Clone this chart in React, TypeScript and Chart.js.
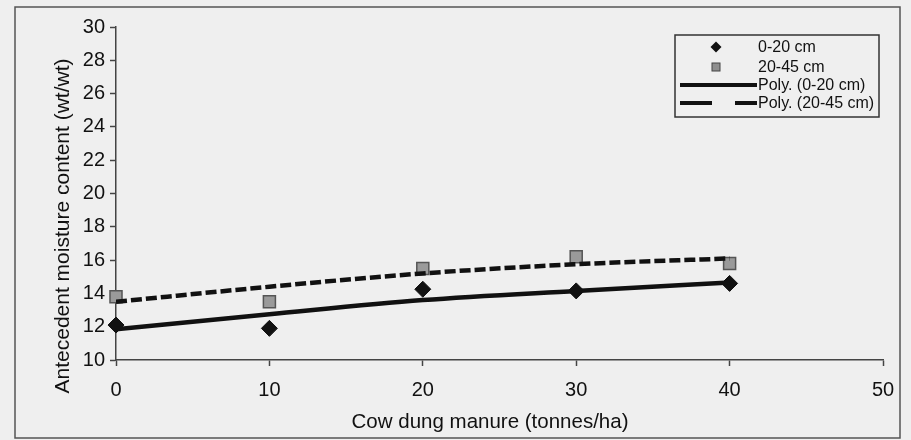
import React, { useEffect, useRef } from "react";
import { Chart, registerables } from "chart.js";

Chart.register(...registerables);

// ---- data ----
const manureRates = [0, 10, 20, 30, 40];
const moisture0to20 = [12.1, 11.9, 14.25, 14.15, 14.6];
const moisture20to45 = [13.8, 13.5, 15.5, 16.2, 15.8];
const poly0to20 = [11.85, 12.75, 13.6, 14.15, 14.65];
const poly20to45 = [13.5, 14.4, 15.2, 15.75, 16.1];
const seriesLabels = ["0-20 cm", "20-45 cm", "Poly. (0-20 cm)", "Poly. (20-45 cm)"];
const xTickValues = [0, 10, 20, 30, 40, 50];
const yTickValues = [10, 12, 14, 16, 18, 20, 22, 24, 26, 28, 30];
const xTitle = "Cow dung manure (tonnes/ha)";
const yTitle = "Antecedent moisture content (wt/wt)";

const FONT = '"Liberation Sans", Arial, sans-serif';
const INK = "#111";
const BG = "#efefef";

const toPoints = (xs: number[], ys: number[]) => xs.map((x, i) => ({ x, y: ys[i] }));

const decorations = {
  id: "decorations",
  beforeDraw(chart: any) {
    const ctx = chart.ctx;
    ctx.save();
    ctx.fillStyle = BG;
    ctx.fillRect(0, 0, chart.width, chart.height);
    ctx.strokeStyle = "#555";
    ctx.lineWidth = 1.5;
    ctx.strokeRect(15, 7, 885, 431);
    ctx.restore();
  },
  afterDraw(chart: any) {
    const ctx = chart.ctx;
    ctx.save();
    ctx.fillStyle = INK;
    // x title
    ctx.font = `20.5px ${FONT}`;
    ctx.textAlign = "center";
    ctx.textBaseline = "alphabetic";
    ctx.fillText(xTitle, 490, 428);
    // y title
    ctx.save();
    ctx.translate(69, 226);
    ctx.rotate(-Math.PI / 2);
    ctx.font = `21px ${FONT}`;
    ctx.fillText(yTitle, 0, 0);
    ctx.restore();

    // legend
    const bx = 675, by = 35, bw = 204, bh = 82;
    ctx.fillStyle = BG;
    ctx.fillRect(bx, by, bw, bh);
    ctx.strokeStyle = "#333";
    ctx.lineWidth = 1.5;
    ctx.strokeRect(bx, by, bw, bh);
    const rows = [47, 67, 85, 103];
    const symX = 716;
    // diamond
    ctx.fillStyle = "#111";
    ctx.beginPath();
    ctx.moveTo(symX - 5.5, rows[0]);
    ctx.lineTo(symX, rows[0] - 5.5);
    ctx.lineTo(symX + 5.5, rows[0]);
    ctx.lineTo(symX, rows[0] + 5.5);
    ctx.closePath();
    ctx.fill();
    // square
    ctx.fillStyle = "#8e8e8e";
    ctx.fillRect(symX - 4, rows[1] - 4, 8, 8);
    ctx.strokeStyle = "#444";
    ctx.lineWidth = 1;
    ctx.strokeRect(symX - 4, rows[1] - 4, 8, 8);
    // solid line
    ctx.strokeStyle = "#111";
    ctx.lineWidth = 4;
    ctx.beginPath();
    ctx.moveTo(680, rows[2]);
    ctx.lineTo(757, rows[2]);
    ctx.stroke();
    // dashed line
    ctx.beginPath();
    ctx.moveTo(680, rows[3]);
    ctx.lineTo(712, rows[3]);
    ctx.moveTo(735, rows[3]);
    ctx.lineTo(757, rows[3]);
    ctx.stroke();
    // texts
    ctx.fillStyle = INK;
    ctx.font = `16px ${FONT}`;
    ctx.textAlign = "left";
    ctx.textBaseline = "middle";
    seriesLabels.forEach((t, i) => ctx.fillText(t, 758, rows[i] + 1));
    ctx.restore();
  },
};

export default function App() {
  const ref = useRef<HTMLCanvasElement | null>(null);

  useEffect(() => {
    if (!ref.current) return;
    const chart = new Chart(ref.current, {
      type: "scatter",
      data: {
        datasets: [
          {
            label: seriesLabels[2],
            data: toPoints(manureRates, poly0to20),
            showLine: true,
            borderColor: "#111",
            borderWidth: 4.5,
            pointRadius: 0,
            cubicInterpolationMode: "monotone",
            order: 0,
          },
          {
            label: seriesLabels[3],
            data: toPoints(manureRates, poly20to45),
            showLine: true,
            borderColor: "#111",
            borderWidth: 4.5,
            borderDash: [11, 4],
            pointRadius: 0,
            cubicInterpolationMode: "monotone",
            order: 0,
          },
          {
            label: seriesLabels[0],
            data: toPoints(manureRates, moisture0to20),
            pointStyle: "rectRot",
            pointRadius: 8,
            backgroundColor: "#111",
            borderColor: "#111",
            borderWidth: 1,
            clip: false,
            order: 1,
          },
          {
            label: seriesLabels[1],
            data: toPoints(manureRates, moisture20to45),
            pointStyle: "rect",
            pointRadius: 8.5,
            backgroundColor: "#9a9a9a",
            borderColor: "#555",
            borderWidth: 1.5,
            clip: false,
            order: 2,
          },
        ] as any,
      },
      options: {
        responsive: false,
        animation: false,
        devicePixelRatio: 1,
        layout: { padding: { left: 0, right: 28, top: 27, bottom: 0 } },
        plugins: { legend: { display: false }, tooltip: { enabled: false } },
        scales: {
          x: {
            type: "linear",
            min: 0,
            max: 50,
            afterBuildTicks: (s: any) => {
              s.ticks = xTickValues.map((v) => ({ value: v }));
            },
            afterFit: (s: any) => {
              s.height = 80;
            },
            ticks: { color: INK, font: { family: FONT, size: 20 }, padding: 12 },
            grid: { drawOnChartArea: false, drawTicks: true, tickLength: 6, tickColor: "#444", tickWidth: 1.5 },
            border: { color: "#444", width: 1.5 },
          },
          y: {
            type: "linear",
            min: 10,
            max: 30,
            afterBuildTicks: (s: any) => {
              s.ticks = yTickValues.map((v) => ({ value: v }));
            },
            afterFit: (s: any) => {
              s.width = 116;
            },
            ticks: { color: INK, font: { family: FONT, size: 20 }, padding: 5 },
            grid: { drawOnChartArea: false, drawTicks: true, tickLength: 6, tickColor: "#444", tickWidth: 1.5 },
            border: { color: "#444", width: 1.5 },
          },
        },
      } as any,
      plugins: [decorations],
    });
    return () => chart.destroy();
  }, []);

  return (
    <div style={{ position: "absolute", left: 0, top: 0, width: 911, height: 440, background: BG }}>
      <canvas ref={ref} width={911} height={440} style={{ display: "block" }} />
    </div>
  );
}
